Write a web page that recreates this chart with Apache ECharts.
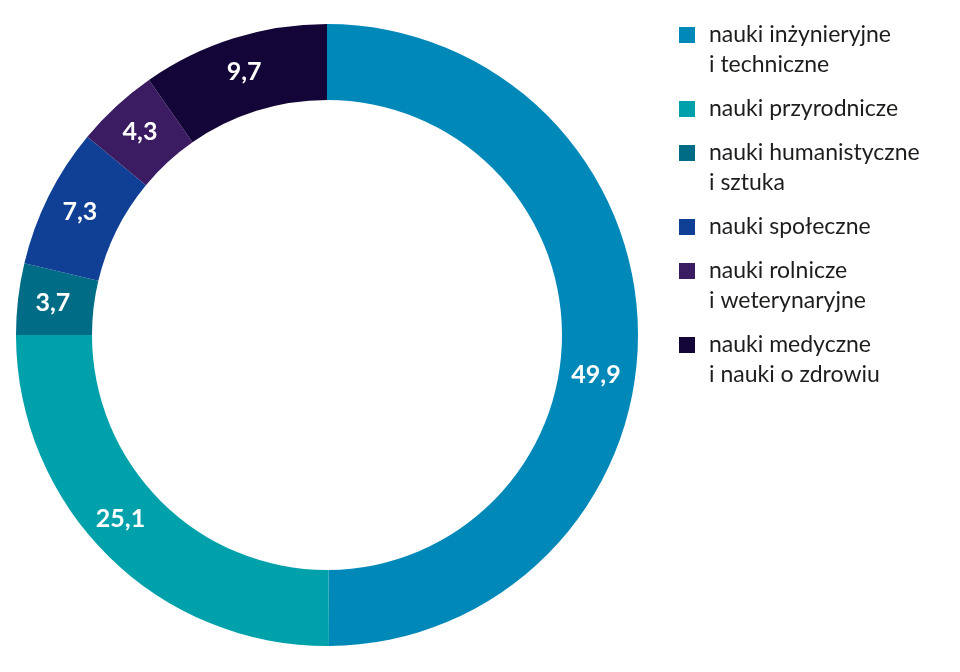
<!DOCTYPE html>
<html>
<head>
<meta charset="utf-8">
<script src="https://cdn.jsdelivr.net/npm/echarts@6/dist/echarts.min.js"></script>
<style>
html,body{margin:0;padding:0;background:#fff;}
#main{width:960px;height:672px;}
</style>
</head>
<body>
<div id="main"></div>
<script>
const categories = [
  'nauki inżynieryjne\ni techniczne',
  'nauki przyrodnicze',
  'nauki humanistyczne\ni sztuka',
  'nauki społeczne',
  'nauki rolnicze\ni weterynaryjne',
  'nauki medyczne\ni nauki o zdrowiu'
];
const values = [49.9, 25.1, 3.7, 7.3, 4.3, 9.7];
const colors = ['#0088B9', '#00A1AA', '#006C86', '#0F4096', '#3B1C62', '#140538'];

const rich = {
  g: { width: 14, height: 16, lineHeight: 30 },
  p: { width: 30, lineHeight: 30 },
  t: { fontSize: 23, color: '#1d1d1b', lineHeight: 30, fontFamily: 'Lato' }
};
colors.forEach((c, i) => {
  rich['s' + i] = { width: 16, height: 16, backgroundColor: c, lineHeight: 30 };
});

const chart = echarts.init(document.getElementById('main'), null, { renderer: 'canvas' });
chart.setOption({
  animation: false,
  color: colors,
  legend: {
    orient: 'vertical',
    left: 669,
    top: 15,
    itemWidth: 0,
    itemHeight: 0,
    itemGap: 14,
    icon: 'rect',
    selectedMode: false,
    data: categories,
    formatter: function (name) {
      const i = categories.indexOf(name);
      const lines = name.split('\n');
      let s = '{s' + i + '|}{g|}{t|' + lines[0] + '}';
      for (let k = 1; k < lines.length; k++) {
        s += '\n{p|}{t|' + lines[k] + '}';
      }
      return s;
    },
    textStyle: { rich: rich, lineHeight: 30, fontSize: 23, fontFamily: 'Lato' }
  },
  series: [{
    type: 'pie',
    center: [327, 335],
    radius: [235, 311],
    startAngle: 90,
    clockwise: true,
    avoidLabelOverlap: false,
    itemStyle: { borderWidth: 0 },
    label: {
      show: true,
      position: 'inside',
      color: '#fff',
      fontSize: 25,
      fontWeight: 'bold',
      fontFamily: 'Lato',
      formatter: function (p) { return String(p.value).replace('.', ','); }
    },
    labelLine: { show: false },
    labelLayout: function (p) {
      if (p.dataIndex === 0) return { dx: -7, dy: 41 };
      if (p.dataIndex === 1) return { dx: -12, dy: -12 };
      return {};
    },
    emphasis: { disabled: true },
    data: categories.map((n, i) => ({ name: n, value: values[i] }))
  }]
});
</script>
</body>
</html>
